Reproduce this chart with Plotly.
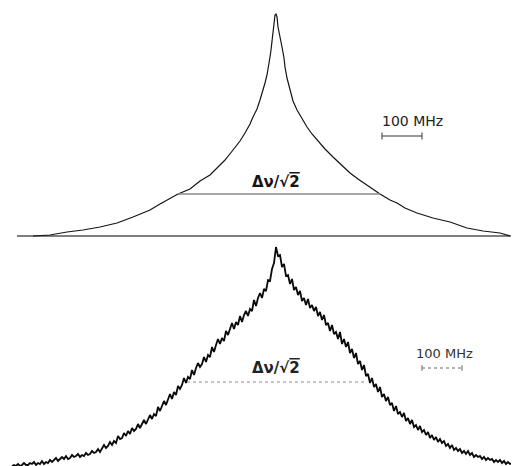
import plotly.graph_objects as go

# ---------------- data (frequency offset in MHz, intensity in arbitrary units) -------------
top_freq = [-607.5, -565, -522.5, -482.5, -440, -397.5, -357.5, -315, -290, -272.5, -245, -215,
            -190, -165, -147.5, -127.5, -107.5, -90, -77.5, -65, -57.5, -47.5, -40, -32.5, -27.5,
            -22.5, -20, -15, -12.5, -10, -7.5, -5, -2.5, 0, 2.5, 5, 10, 15, 20, 22.5, 27.5, 35,
            42.5, 52.5, 65, 77.5, 90, 102.5, 122.5, 142.5, 165, 185, 205, 227.5, 247.5, 260, 285,
            302.5, 322.5, 352.5, 392.5, 435, 477.5, 517.5, 560, 585]
top_int = [0, 1, 4, 6, 9, 13, 19, 26, 32, 36, 42, 47,
           55, 61, 68, 76, 86, 95, 103, 112, 119, 127, 136, 145, 153,
           161, 169, 179, 186, 196, 208, 216, 221, 222, 219, 209, 200, 189, 178, 169, 158, 146,
           135, 126, 117, 109, 102, 96, 87, 79, 70, 63, 57, 51, 45, 42, 36,
           33, 28, 23, 18, 14, 8, 5, 3, 0]

bot_freq = [-660, -655, -650, -645, -640, -635, -630, -625, -620, -615,
            -610, -605, -600, -595, -590, -585, -580, -575, -570, -565,
            -560, -555, -550, -545, -540, -535, -530, -525, -520, -515,
            -510, -505, -500, -495, -490, -485, -480, -475, -470, -465,
            -460, -455, -450, -445, -440, -435, -430, -425, -420, -415,
            -410, -405, -400, -395, -390, -385, -380, -375, -370, -365,
            -360, -355, -350, -345, -340, -335, -330, -325, -320, -315,
            -310, -305, -300, -295, -290, -285, -280, -275, -270, -265,
            -260, -255, -250, -245, -240, -235, -230, -225, -220, -215,
            -210, -205, -200, -195, -190, -185, -180, -175, -170, -165,
            -160, -155, -150, -145, -140, -135, -130, -125, -120, -115,
            -110, -105, -100, -95, -90, -85, -80, -75, -70, -65,
            -60, -55, -50, -45, -40, -35, -30, -25, -20, -15,
            -10, -5, 0, 5, 10, 15, 20, 25, 30, 35,
            40, 45, 50, 55, 60, 65, 70, 75, 80, 85,
            90, 95, 100, 105, 110, 115, 120, 125, 130, 135,
            140, 145, 150, 155, 160, 165, 170, 175, 180, 185,
            190, 195, 200, 205, 210, 215, 220, 225, 230, 235,
            240, 245, 250, 255, 260, 265, 270, 275, 280, 285,
            290, 295, 300, 305, 310, 315, 320, 325, 330, 335,
            340, 345, 350, 355, 360, 365, 370, 375, 380, 385,
            390, 395, 400, 405, 410, 415, 420, 425, 430, 435,
            440, 445, 450, 455, 460, 465, 470, 475, 480, 485,
            490, 495, 500, 505, 510, 515, 520, 525, 530, 535,
            540, 545, 550, 555, 560, 565, 570, 575, 580, 585,
            590, 595, 600]
bot_int = [0, 1, 0, 2, 0, 1, 3, 1, 1, 3,
           2, 4, 1, 3, 2, 5, 2, 4, 3, 6,
           4, 6, 8, 5, 7, 9, 7, 10, 7, 8,
           11, 9, 10, 12, 9, 11, 10, 13, 11, 12,
           15, 13, 14, 17, 14, 18, 21, 18, 20, 24,
           21, 25, 23, 30, 27, 28, 33, 30, 35, 32,
           38, 35, 37, 42, 38, 42, 46, 42, 47, 51,
           47, 52, 50, 59, 55, 60, 65, 61, 66, 72,
           67, 74, 71, 80, 77, 81, 88, 83, 89, 87,
           96, 91, 98, 103, 99, 102, 109, 104, 111, 109,
           119, 114, 121, 127, 122, 128, 125, 135, 131, 138,
           143, 137, 144, 141, 150, 144, 151, 155, 150, 157,
           155, 166, 160, 168, 173, 168, 177, 175, 186, 185,
           197, 203, 219, 210, 211, 199, 202, 190, 191, 182,
           187, 176, 179, 171, 175, 165, 168, 161, 167, 158,
           161, 155, 159, 150, 154, 146, 151, 141, 143, 135,
           141, 132, 134, 127, 134, 122, 127, 119, 124, 113,
           117, 108, 113, 102, 105, 96, 101, 90, 92, 83,
           88, 79, 82, 74, 79, 69, 72, 65, 69, 61,
           63, 55, 60, 52, 54, 49, 53, 45, 48, 42,
           46, 39, 41, 36, 40, 34, 36, 31, 34, 28,
           31, 26, 29, 24, 27, 23, 25, 20, 22, 18,
           21, 16, 18, 15, 17, 13, 15, 12, 15, 11,
           13, 9, 11, 9, 10, 7, 9, 6, 8, 6,
           7, 4, 6, 4, 6, 3, 5, 2, 4, 2,
           3, 1, 2]

# top baseline span and half-width markers
top_base_freq = [-647.5, 597.5]
top_half_freq = [-245, 260]
top_half_int = 42
bot_half_freq = [-222.5, 227.5]
bot_half_int = 84

# 100 MHz scale bars (start, end)
top_scale_freq = [265, 365]
top_scale_int = 100
bot_scale_freq = [365, 465]
bot_scale_int = 98

label_dnu = "Δν/√<span style='text-decoration:overline'>2</span>"
label_scale = "100 MHz"

INK = "#141414"
GREY = "#8a8a8a"

fig = go.Figure()

# ---------- top panel (yaxis) ----------
fig.add_trace(go.Scatter(x=top_base_freq, y=[0, 0], mode="lines",
                         line=dict(color="#555555", width=1.3), yaxis="y"))
fig.add_trace(go.Scatter(x=top_freq, y=top_int, mode="lines",
                         line=dict(color=INK, width=1.2), yaxis="y"))
fig.add_trace(go.Scatter(x=top_half_freq, y=[top_half_int] * 2, mode="lines",
                         line=dict(color=GREY, width=1.6), yaxis="y"))
fig.add_trace(go.Scatter(x=top_scale_freq, y=[top_scale_int] * 2, mode="lines+markers",
                         line=dict(color="#333333", width=1),
                         marker=dict(symbol="line-ns", size=5, line=dict(color="#333333", width=1)),
                         yaxis="y"))

# ---------- bottom panel (yaxis2) ----------
fig.add_trace(go.Scatter(x=bot_freq, y=bot_int, mode="lines",
                         line=dict(color="#0a0a0a", width=1.8), yaxis="y2"))
fig.add_trace(go.Scatter(x=bot_half_freq, y=[bot_half_int] * 2, mode="lines",
                         line=dict(color=GREY, width=1, dash="dot"), yaxis="y2"))
fig.add_trace(go.Scatter(x=bot_scale_freq, y=[bot_scale_int] * 2, mode="lines+markers",
                         line=dict(color="#666666", width=1, dash="dot"),
                         marker=dict(symbol="line-ns", size=4, line=dict(color="#666666", width=1)),
                         yaxis="y2"))

annotations = [
    dict(x=0, y=top_half_int + 1, xref="x", yref="y", text="<b>" + label_dnu + "</b>",
         showarrow=False, yanchor="bottom", xanchor="center",
         font=dict(family="DejaVu Sans", size=15, color=INK)),
    dict(x=340, y=top_scale_int + 5, xref="x", yref="y", text=label_scale,
         showarrow=False, yanchor="bottom", xanchor="center",
         font=dict(family="DejaVu Sans", size=14, color="#222222")),
    dict(x=0, y=bot_half_int + 3, xref="x", yref="y2", text="<b>" + label_dnu + "</b>",
         showarrow=False, yanchor="bottom", xanchor="center",
         font=dict(family="DejaVu Sans", size=15, color="#222222")),
    dict(x=420, y=bot_scale_int + 5, xref="x", yref="y2", text=label_scale,
         showarrow=False, yanchor="bottom", xanchor="center",
         font=dict(family="DejaVu Sans", size=13, color="#333333")),
]

# the page body has an 8px margin, so the figure is 8px smaller and the axis
# ranges start 8px "earlier" to keep the drawing aligned with the reference
fig.update_layout(
    width=511, height=458,
    margin=dict(l=0, r=0, t=0, b=0),
    paper_bgcolor="white", plot_bgcolor="white",
    showlegend=False,
    xaxis=dict(range=[-670, 607.5], visible=False, fixedrange=True),
    yaxis=dict(range=[-230, 228], visible=False, domain=[0, 1]),
    yaxis2=dict(range=[0, 458], visible=False, overlaying="y", domain=[0, 1]),
    annotations=annotations,
)

fig.write_html("out.html")
